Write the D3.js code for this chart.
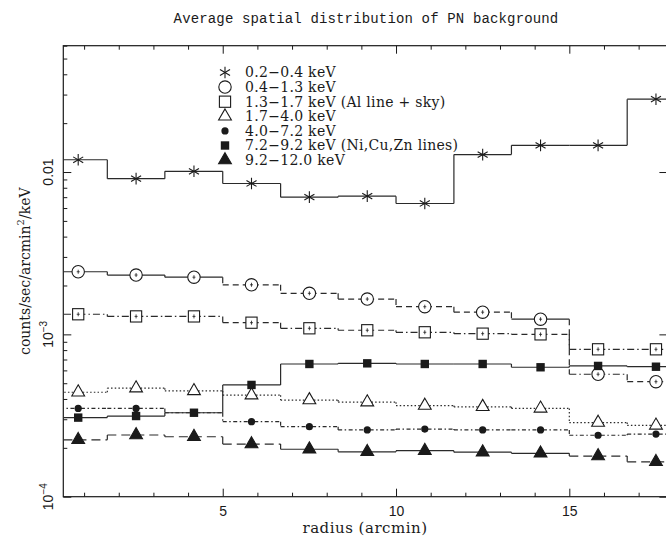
<!DOCTYPE html>
<html>
<head>
<meta charset="utf-8">
<script src="https://cdn.jsdelivr.net/npm/d3@7"></script>
<style>
  body { margin: 0; background: #fff; }
  svg { display: block; }
</style>
</head>
<body>
<svg id="chart" width="666" height="542"></svg>
<script>
// Radial bins (arcmin): centres and edges of the annuli
const radius   = [0.83, 2.5, 4.17, 5.83, 7.5, 9.17, 10.83, 12.5, 14.17, 15.83, 17.5];
const binEdges = [0, 1.67, 3.33, 5, 6.67, 8.33, 10, 11.67, 13.33, 15, 16.67, 18.33];

// Background rate per energy band (counts/sec/arcmin^2/keV)
const band02_04 = [0.0119, 0.0091, 0.0101, 0.0085, 0.0070, 0.0071, 0.0064, 0.0128, 0.0146, 0.0146, 0.0281];
const band04_13 = [0.00243, 0.00232, 0.00225, 0.00202, 0.00179, 0.00165, 0.00148, 0.00137, 0.00124, 0.000568, 0.000511];
const band13_17 = [0.00133, 0.00129, 0.00129, 0.00118, 0.00109, 0.00106, 0.00103, 0.00101, 0.00100, 0.000809, 0.000809];
const band17_40 = [4.40e-4, 4.66e-4, 4.48e-4, 4.22e-4, 3.94e-4, 3.82e-4, 3.64e-4, 3.58e-4, 3.50e-4, 2.86e-4, 2.75e-4];
const band40_72 = [3.50e-4, 3.50e-4, 3.29e-4, 2.90e-4, 2.70e-4, 2.58e-4, 2.61e-4, 2.58e-4, 2.58e-4, 2.39e-4, 2.43e-4];
const band72_92 = [3.07e-4, 3.14e-4, 3.29e-4, 4.88e-4, 6.57e-4, 6.63e-4, 6.57e-4, 6.57e-4, 6.27e-4, 6.39e-4, 6.32e-4];
const band92_120 = [2.24e-4, 2.40e-4, 2.34e-4, 2.11e-4, 1.96e-4, 1.89e-4, 1.92e-4, 1.88e-4, 1.85e-4, 1.78e-4, 1.64e-4];

const bandLabels = [
  "0.2\u22120.4 keV",
  "0.4\u22121.3 keV",
  "1.3\u22121.7 keV (Al line + sky)",
  "1.7\u22124.0 keV",
  "4.0\u22127.2 keV",
  "7.2\u22129.2 keV (Ni,Cu,Zn lines)",
  "9.2\u221212.0 keV"
];
const xTickValues = [5, 10, 15];
const yTickValues = [1e-4, 1e-3, 1e-2];

// ---- drawing styles ----
const DASH = {
  solid: null,
  dash: "6,4",
  longdash: "9,5",
  dashdot: "7,3,1.5,3",
  dashdot2: "4,2.5,1.5,2.5",
  dot: "1.5,2.2"
};
const rep = (s, n) => Array(n).fill(s);
const seriesDefs = [
  { values: band02_04, marker: "asterisk", bins: rep("solid", 11), join: "solid" },
  { values: band04_13, marker: "circle",
    bins: ["solid","solid","solid","dash","dash","dash","dash","dash","solid","dashdot","dash"], join: "dash" },
  { values: band13_17, marker: "square",
    bins: ["dashdot","dashdot","dashdot","dash","dashdot","dash","dashdot","dashdot","dash","dashdot","dashdot"], join: "dash" },
  { values: band17_40, marker: "triangle", bins: rep("dot", 11), join: "dot" },
  { values: band40_72, marker: "dot", bins: rep("dashdot2", 11), join: "dashdot2" },
  { values: band72_92, marker: "fsquare", bins: rep("solid", 11), join: "solid" },
  { values: band92_120, marker: "ftriangle",
    bins: ["longdash","longdash","longdash","longdash","solid","solid","solid","solid","solid","longdash","longdash"], join: "longdash" }
];

const svg = d3.select("#chart");
const L = 63.3, T = 45.7, B = 496.7, R = 667.4;
const ink = "#1a1a1a";

const x = d3.scaleLinear().domain([0.4, 17.83]).range([L, R]);
const y = d3.scaleLog().domain([1e-4, 0.06]).range([B, T]);

// Title (typewriter face)
svg.append("text")
  .attr("x", 366).attr("y", 22.5)
  .attr("text-anchor", "middle")
  .attr("font-family", "Liberation Mono")
  .attr("font-size", 14)
  .attr("letter-spacing", 0.15)
  .attr("fill", ink)
  .text("Average spatial distribution of PN background");

// Clip for the data region
svg.append("defs").append("clipPath").attr("id", "plotClip")
  .append("rect").attr("x", L).attr("y", T).attr("width", R - L).attr("height", B - T);

// ---- axes (inward ticks) ----
const minorX = d3.range(1, 18).filter(v => !xTickValues.includes(v));
const minorY = [];
[1e-4, 1e-3, 1e-2].forEach(d => { for (let k = 2; k <= 9; k++) { const v = k * d; if (v <= 0.06) minorY.push(v); } });

function styleAxis(g) {
  g.select(".domain").remove();
  g.selectAll(".tick line").attr("stroke", ink).attr("stroke-width", 1);
}

const xb = svg.append("g").attr("transform", `translate(0,${B})`)
  .call(d3.axisBottom(x).tickValues(xTickValues).tickSizeInner(-8).tickSizeOuter(0).tickPadding(9).tickFormat(d3.format("d")));
styleAxis(xb);
xb.selectAll(".tick text").attr("font-family", "Liberation Sans").attr("font-size", 14).attr("fill", ink);

const xbm = svg.append("g").attr("transform", `translate(0,${B})`)
  .call(d3.axisBottom(x).tickValues(minorX).tickSizeInner(-4).tickSizeOuter(0).tickFormat(""));
styleAxis(xbm);

const xt = svg.append("g").attr("transform", `translate(0,${T})`)
  .call(d3.axisTop(x).tickValues(xTickValues).tickSizeInner(-8).tickSizeOuter(0).tickFormat(""));
styleAxis(xt);
const xtm = svg.append("g").attr("transform", `translate(0,${T})`)
  .call(d3.axisTop(x).tickValues(minorX).tickSizeInner(-4).tickSizeOuter(0).tickFormat(""));
styleAxis(xtm);

const yl = svg.append("g").attr("transform", `translate(${L},0)`)
  .call(d3.axisLeft(y).tickValues(yTickValues).tickSizeInner(-8).tickSizeOuter(0).tickFormat(""));
styleAxis(yl);
const ylm = svg.append("g").attr("transform", `translate(${L},0)`)
  .call(d3.axisLeft(y).tickValues(minorY).tickSizeInner(-4).tickSizeOuter(0).tickFormat(""));
styleAxis(ylm);

const yr = svg.append("g").attr("transform", `translate(${R},0)`)
  .call(d3.axisRight(y).tickValues(yTickValues).tickSizeInner(-8).tickSizeOuter(0).tickFormat(""));
styleAxis(yr);

// Rotated y tick labels
const yLab = svg.append("g");
yTickValues.forEach(v => {
  const t = yLab.append("text")
    .attr("transform", `translate(53,${y(v)}) rotate(-90)`)
    .attr("text-anchor", "middle")
    .attr("font-family", "Liberation Sans")
    .attr("font-size", 14)
    .attr("fill", ink);
  if (v === 1e-2) {
    t.text("0.01");
  } else {
    const e = Math.round(Math.log10(v));
    t.append("tspan").text("10");
    t.append("tspan").attr("font-size", 10).attr("dy", -6).text("\u2212" + Math.abs(e));
  }
});

// Frame
svg.append("rect")
  .attr("x", L).attr("y", T).attr("width", R - L + 20).attr("height", B - T)
  .attr("fill", "none").attr("stroke", ink).attr("stroke-width", 1.2);

// Axis titles
svg.append("text")
  .attr("x", 365).attr("y", 533)
  .attr("text-anchor", "middle")
  .attr("font-family", "DejaVu Serif")
  .attr("font-size", 15)
  .attr("letter-spacing", 0.5)
  .attr("fill", ink)
  .text("radius (arcmin)");

const yTitle = svg.append("text")
  .attr("transform", `translate(30,${(T + B) / 2}) rotate(-90)`)
  .attr("text-anchor", "middle")
  .attr("font-family", "DejaVu Serif")
  .attr("font-size", 14)
  .attr("fill", ink);
yTitle.append("tspan").text("counts/sec/arcmin");
yTitle.append("tspan").attr("font-size", 10).attr("dy", -6).text("2");
yTitle.append("tspan").attr("dy", 6).text("/keV");

// ---- step histograms ----
const plot = svg.append("g").attr("clip-path", "url(#plotClip)");
const seg = d3.line().x(d => x(d[0])).y(d => y(d[1]));

seriesDefs.forEach(s => {
  const g = plot.append("g");
  s.values.forEach((v, i) => {
    g.append("path")
      .attr("d", seg([[binEdges[i], v], [binEdges[i + 1], v]]))
      .attr("fill", "none").attr("stroke", "#2a2a2a").attr("stroke-width", 1.2)
      .attr("stroke-dasharray", DASH[s.bins[i]]);
    if (i > 0) {
      g.append("path")
        .attr("d", seg([[binEdges[i], s.values[i - 1]], [binEdges[i], v]]))
        .attr("fill", "none").attr("stroke", "#2a2a2a").attr("stroke-width", 1.2)
        .attr("stroke-dasharray", DASH[s.join]);
    }
  });
});

// ---- markers ----
function drawMarker(g, type, cx, cy) {
  const st = { stroke: ink, "stroke-width": 1.1 };
  const apply = (el, attrs) => { Object.entries(attrs).forEach(([k, v]) => el.attr(k, v)); return el; };
  if (type === "asterisk") {
    const r = 5.8;
    [90, 30, -30].forEach(a => {
      const dx = r * Math.cos(a * Math.PI / 180), dy = r * Math.sin(a * Math.PI / 180);
      apply(g.append("line"), st).attr("x1", cx - dx).attr("y1", cy - dy).attr("x2", cx + dx).attr("y2", cy + dy);
    });
  } else if (type === "circle") {
    apply(g.append("circle"), st).attr("cx", cx).attr("cy", cy).attr("r", 6.2).attr("fill", "#fff");
  } else if (type === "square") {
    apply(g.append("rect"), st).attr("x", cx - 5.6).attr("y", cy - 5.6).attr("width", 11.2).attr("height", 11.2).attr("fill", "#fff");
  } else if (type === "triangle" || type === "ftriangle") {
    const p = `M${cx},${cy - 7.4}L${cx + 6.4},${cy + 3.7}L${cx - 6.4},${cy + 3.7}Z`;
    apply(g.append("path"), st).attr("d", p).attr("fill", type === "triangle" ? "#fff" : ink);
  } else if (type === "dot") {
    g.append("circle").attr("cx", cx).attr("cy", cy).attr("r", 3.6).attr("fill", ink);
  } else if (type === "fsquare") {
    g.append("rect").attr("x", cx - 4.2).attr("y", cy - 4.2).attr("width", 8.4).attr("height", 8.4).attr("fill", ink);
  }
}

function drawErrorTick(g, cx, cy) {
  g.append("line").attr("x1", cx).attr("x2", cx).attr("y1", cy - 2).attr("y2", cy + 2).attr("stroke", ink).attr("stroke-width", 0.8);
  g.append("line").attr("x1", cx - 1.5).attr("x2", cx + 1.5).attr("y1", cy).attr("y2", cy).attr("stroke", ink).attr("stroke-width", 0.8);
}

seriesDefs.forEach(s => {
  const g = plot.append("g");
  s.values.forEach((v, i) => {
    drawMarker(g, s.marker, x(radius[i]), y(v));
    if (s.marker === "circle" || s.marker === "square") drawErrorTick(g, x(radius[i]), y(v));
  });
});

// ---- legend ----
const leg = svg.append("g");
seriesDefs.forEach((s, i) => {
  const cy = 72.5 + i * 14.6;
  drawMarker(leg, s.marker, 225, cy);
  leg.append("text")
    .attr("x", 245).attr("y", cy).attr("dy", "0.35em")
    .attr("font-family", "DejaVu Serif")
    .attr("font-size", 14)
    .attr("letter-spacing", 0.3)
    .attr("fill", ink)
    .text(bandLabels[i]);
});
</script>
</body>
</html>
